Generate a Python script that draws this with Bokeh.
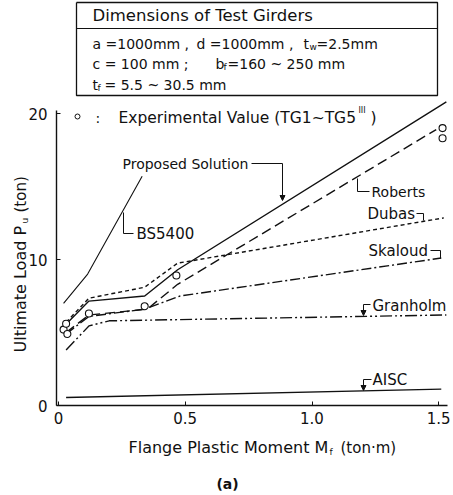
import math
from bokeh.plotting import figure
from bokeh.models import Label, Arrow, NormalHead, FixedTicker, Range1d, CustomJSTickFormatter
from bokeh.embed import file_html
from bokeh.resources import INLINE

# ---------------- data ----------------
x_ticks = [0, 0.5, 1.0, 1.5]
y_ticks = [0, 10, 20]

exp_x = [0.02, 0.03, 0.035, 0.12, 0.34, 0.465, 1.515, 1.515]
exp_y = [5.2, 5.6, 4.9, 6.3, 6.8, 8.9, 19.0, 18.3]

proposed_x = [0.02, 0.12, 0.34, 0.47, 1.53]
proposed_y = [5.4, 7.15, 7.5, 9.3, 20.8]

bs5400_x = [0.02, 0.115, 0.33]
bs5400_y = [7.0, 9.0, 15.7]

roberts_x = [0.03, 0.12, 0.35, 0.47, 1.49]
roberts_y = [5.0, 6.2, 6.6, 8.3, 18.9]

dubas_x = [0.03, 0.12, 0.34, 0.47, 1.52]
dubas_y = [5.7, 7.35, 8.1, 9.75, 12.85]

skaloud_x = [0.03, 0.12, 0.34, 0.48, 1.51]
skaloud_y = [4.9, 6.1, 6.6, 7.5, 10.1]

granholm_x = [0.03, 0.12, 0.2, 1.53]
granholm_y = [3.8, 5.45, 5.8, 6.2]

aisc_x = [0.03, 1.51]
aisc_y = [0.55, 1.12]

# ---------------- layout helpers (pixel -> data) ----------------
W, H = 453, 495
AXIS_LEFT_PX, AXIS_BOTTOM_PX = 56, 405
X0_PX, X_SCALE = 58.0, 253.5
Y0_PX, Y_SCALE = 405.0, 14.6


def dx(px):
    return (px - X0_PX) / X_SCALE


def dy(py):
    return (Y0_PX - py) / Y_SCALE


INK = "#111111"
FONT = "DejaVu Sans"

# the frame covers the whole canvas; the axes sit at fixed locations inside it
p = figure(width=W, height=H,
           x_range=Range1d(dx(0), dx(W)), y_range=Range1d(dy(H), dy(0)),
           min_border=0, min_border_left=0, min_border_right=0, min_border_top=0,
           min_border_bottom=0, output_backend="svg", toolbar_location=None)
p.title.visible = False
p.outline_line_color = None
p.grid.visible = False
p.background_fill_color = "white"
p.border_fill_color = "white"

for ax in (p.xaxis[0], p.yaxis[0]):
    ax.axis_line_width = 1.4
    ax.axis_line_color = INK
    ax.major_tick_line_color = INK
    ax.major_tick_in = 4
    ax.major_tick_out = 0
    ax.minor_tick_in = 0
    ax.minor_tick_out = 0
    ax.major_label_text_font = FONT
    ax.major_label_text_font_size = "15px"
    ax.major_label_text_color = INK

p.xaxis.fixed_location = dy(AXIS_BOTTOM_PX)
p.xaxis.ticker = FixedTicker(ticks=x_ticks)
p.xaxis.formatter = CustomJSTickFormatter(code="return tick == 0 ? '0' : tick.toFixed(1);")
p.xaxis.bounds = (dx(AXIS_LEFT_PX), dx(447))
p.xaxis.major_label_standoff = 6

p.yaxis.fixed_location = dx(AXIS_LEFT_PX)
p.yaxis.ticker = FixedTicker(ticks=y_ticks)
p.yaxis.bounds = (dy(AXIS_BOTTOM_PX), dy(110))
p.yaxis.major_label_standoff = 9

# ---------------- curves ----------------
lw = 1.4
p.line(proposed_x, proposed_y, line_color=INK, line_width=lw)
p.line(bs5400_x, bs5400_y, line_color=INK, line_width=1.1)
p.line(roberts_x, roberts_y, line_color=INK, line_width=lw, line_dash="10 5")
p.line(dubas_x, dubas_y, line_color=INK, line_width=lw, line_dash="4 3")
p.line(skaloud_x, skaloud_y, line_color=INK, line_width=lw, line_dash="10 3 2 3")
p.line(granholm_x, granholm_y, line_color=INK, line_width=lw, line_dash="12 3 2 3 2 3")
p.line(aisc_x, aisc_y, line_color=INK, line_width=lw)

p.scatter(exp_x, exp_y, marker="circle", size=7, fill_color="white",
          line_color=INK, line_width=1.1)


# ---------------- annotations ----------------
def pline(pts, w=1.0, dash="solid"):
    p.line([dx(a) for a, b in pts], [dy(b) for a, b in pts], line_color=INK,
           line_width=w, line_dash=dash)


def label(px, py, text, size=14, align="left", angle=0.0, bold=False):
    p.add_layout(Label(x=dx(px), y=dy(py), text=text, text_font=FONT,
                       text_font_size=f"{size}px", text_color=INK, text_align=align,
                       text_baseline="middle", angle=angle,
                       text_font_style="bold" if bold else "normal"))


def arrow(x1, y1, x2, y2):
    p.add_layout(Arrow(end=NormalHead(size=5, fill_color=INK, line_color=INK),
                       x_start=dx(x1), y_start=dy(y1), x_end=dx(x2), y_end=dy(y2),
                       line_color=INK, line_width=1.0))


# table of dimensions
pline([(76, 2), (437, 2), (437, 95), (76, 95), (76, 2)], w=1.3)
pline([(76, 28), (437, 28)], w=1.1)
label(92, 15, "Dimensions of Test Girders", size=16.5)
label(92, 43, "a =1000mm ,", size=14)
label(196, 43, "d =1000mm ,", size=14)
label(303, 43, "t", size=14)
label(309, 46, "w", size=9)
label(316, 43, "=2.5mm", size=14)
label(92, 63, "c = 100 mm ;", size=14)
label(215, 63, "b", size=14)
label(223, 66, "f", size=9)
label(227, 63, "=160 ~ 250 mm", size=14)
label(92, 84, "t", size=14)
label(97, 87, "f", size=9)
label(104, 84, "= 5.5 ~ 30.5 mm", size=14)

# experimental value legend
p.scatter([dx(77)], [dy(116)], marker="circle", size=5, fill_color="white",
          line_color=INK, line_width=1.0)
label(95, 117, ":", size=14)
label(118, 117, "Experimental Value (TG1~TG5", size=15.5)
label(358, 110, "III", size=8)
label(370, 117, ")", size=15.5)

# curve labels with leaders
label(122, 163, "Proposed Solution", size=14)
pline([(251, 163), (282, 163)])
arrow(282, 163, 282, 200)

label(136, 233, "BS5400", size=15)
pline([(123, 212), (123, 233), (133, 233)])

label(371, 191, "Roberts", size=14)
pline([(357, 178), (357, 191), (369, 191)])

label(367, 213, "Dubas", size=15)
pline([(416, 213), (423, 213), (423, 220)])

label(368, 250, "Skaloud", size=15)
pline([(430, 250), (440, 250), (440, 258)])

label(372, 305, "Granholm", size=15)
pline([(370, 304), (363, 304)])
arrow(363, 304, 363, 315)

label(372, 379, "AISC", size=15)
pline([(371, 379), (363, 379)])
arrow(363, 379, 363, 390)

# axis titles
label(128, 447, "Flange Plastic Moment M", size=16)
label(329, 451, "f", size=9)
label(340, 447, "(ton\u00b7m)", size=15)

label(20, 352, "Ultimate Load P", size=16, angle=math.pi / 2)
label(24, 223, "u", size=9, angle=math.pi / 2)
label(20, 212, "(ton)", size=15, angle=math.pi / 2)

label(227, 483, "(a)", size=14, align="center", bold=True)

open("out.html", "w").write(file_html(p, INLINE))
